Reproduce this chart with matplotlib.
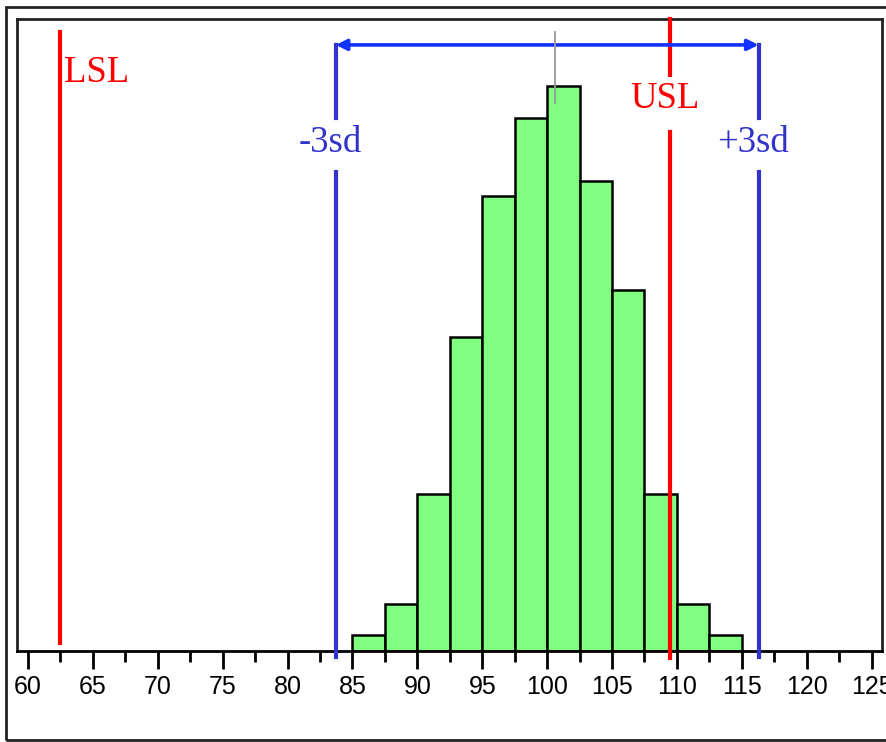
import matplotlib
matplotlib.use("Agg")
import matplotlib.pyplot as plt
import numpy as np
from matplotlib.patches import Rectangle

# histogram data (bin edges every 2.5, counts)
bin_edges = [85, 87.5, 90, 92.5, 95, 97.5, 100, 102.5, 105, 107.5, 110, 112.5, 115]
counts = [1, 3, 10, 20, 29, 34, 36, 30, 23, 10, 3, 1]

lsl = 62.5
usl = 109.5
mean = 100.0
sd = 5.43
center_mark = 100.6

major_ticks = [60, 65, 70, 75, 80, 85, 90, 95, 100, 105, 110, 115, 120, 125]

RED = "#ff0000"
BLUE = "#3333cc"
ARROW_BLUE = "#1133ff"
GREEN = "#80ff80"

W, H = 887, 742
fig = plt.figure(figsize=(W / 100, H / 100), dpi=100)

# outer frame around the whole picture
fig.add_artist(Rectangle((6 / W, 1 - 740 / H), 1.2, (740 - 7) / H,
                         transform=fig.transFigure, fill=False,
                         edgecolor="#222222", lw=2))

ax = fig.add_axes([17 / W, 1 - 651 / H, (882 - 17) / W, (651 - 19) / H])
ax.set_xlim(59.15, 125.8)
ax.set_ylim(0, 40.3)

widths = np.diff(bin_edges)
ax.bar(bin_edges[:-1], counts, width=widths, align="edge", color=GREEN,
       edgecolor="black", linewidth=1.8, zorder=2)

trans = ax.get_xaxis_transform()
serif = {"family": "Liberation Serif", "size": 26.5}

# LSL
ax.plot([lsl, lsl], [0.013, 0.979], transform=trans, color=RED, lw=3,
        clip_on=False, zorder=3)
ax.text(lsl + 0.25, 0.915, "LSL", transform=trans, color=RED, fontdict=serif,
        ha="left", va="center")

# USL (with a gap for its label)
ax.plot([usl, usl], [-0.011, 0.821], transform=trans, color=RED, lw=3,
        clip_on=False, zorder=3)
ax.plot([usl, usl], [0.912, 1.0], transform=trans, color=RED, lw=3,
        clip_on=False, zorder=3)
ax.text(usl - 0.45, 0.874, "USL", transform=trans, color=RED, fontdict=serif,
        ha="center", va="center")

# +/- 3sd lines and labels
for sign, label in [(-1, "-3sd"), (1, "+3sd")]:
    xv = mean + sign * 3 * sd
    ax.plot([xv, xv], [-0.01, 0.758], transform=trans, color=BLUE, lw=3,
            clip_on=False, zorder=3)
    ax.plot([xv, xv], [0.843, 0.959], transform=trans, color=BLUE, lw=3,
            clip_on=False, zorder=3)
    ax.text(xv - 0.45, 0.804, label, transform=trans, color=BLUE,
            fontdict=serif, ha="center", va="center")

ax.annotate("", xy=(mean - 3 * sd, 0.959), xytext=(mean + 3 * sd, 0.959),
            xycoords=trans, textcoords=trans,
            arrowprops=dict(arrowstyle="<|-|>", color=ARROW_BLUE, lw=2.6,
                            mutation_scale=16, shrinkA=0, shrinkB=0),
            zorder=4)

# thin gray centre mark
ax.plot([center_mark, center_mark], [0.867, 0.98], transform=trans,
        color="#999999", lw=1.3, zorder=4)

# axes styling
for side in ["top", "left", "right", "bottom"]:
    ax.spines[side].set_linewidth(2)
    ax.spines[side].set_color("#222222")
ax.spines["bottom"].set_color("black")
ax.set_yticks([])
ax.set_xticks(major_ticks)
ax.set_xticks(np.arange(62.5, 125, 5), minor=True)
ax.tick_params(axis="x", which="major", length=13, width=2, direction="out",
               labelsize=18, pad=4)
ax.tick_params(axis="x", which="minor", length=8, width=2, direction="out")
for lbl in ax.get_xticklabels():
    lbl.set_family("Liberation Sans")

fig.savefig("out.png", dpi=100)
